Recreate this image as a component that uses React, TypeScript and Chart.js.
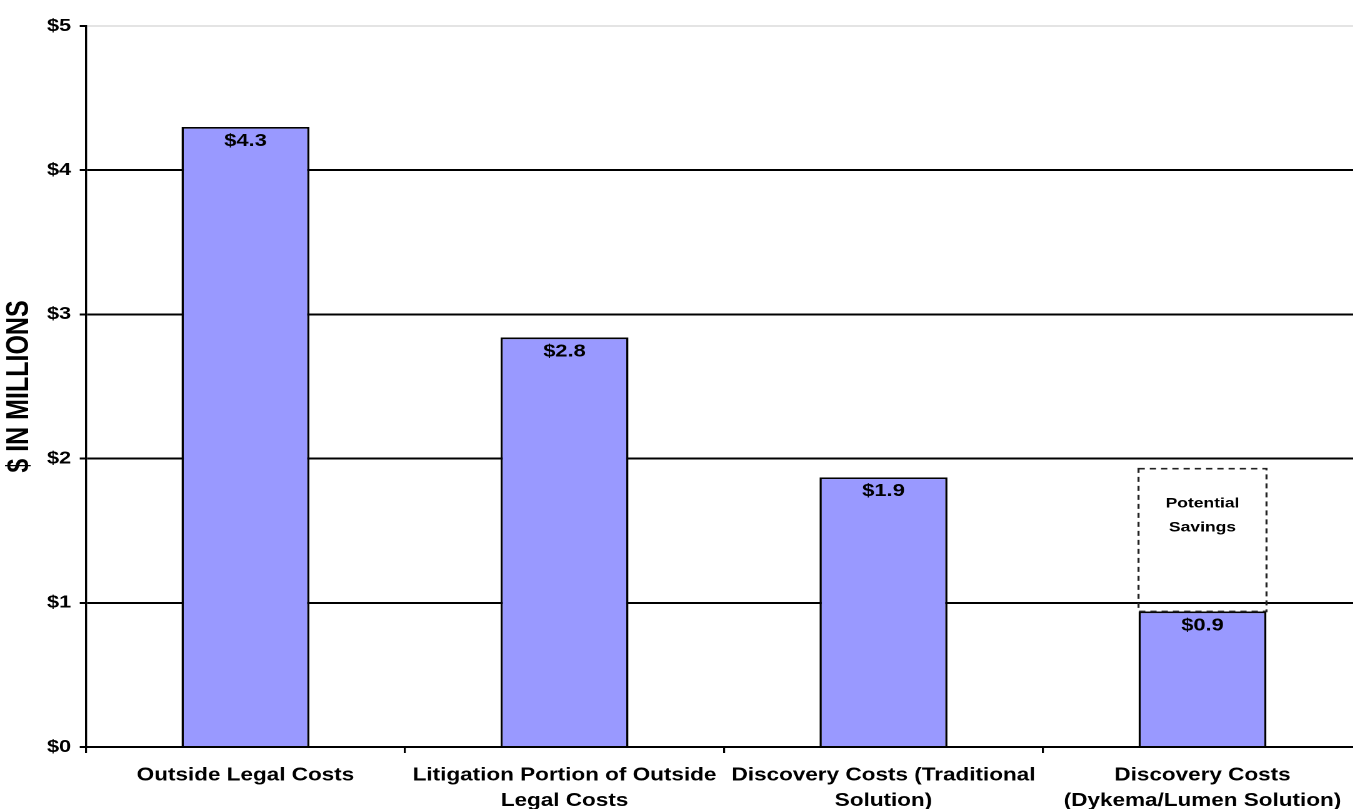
import { useEffect, useRef } from "react";
import { Chart, registerables } from "chart.js";

Chart.register(...registerables);

// ---- data ----
const categories = [
  "Outside Legal Costs",
  "Litigation Portion of Outside Legal Costs",
  "Discovery Costs (Traditional Solution)",
  "Discovery Costs (Dykema/Lumen Solution)",
];
const categoryLabelLines = [
  ["Outside Legal Costs"],
  ["Litigation Portion of Outside", "Legal Costs"],
  ["Discovery Costs (Traditional", "Solution)"],
  ["Discovery Costs", "(Dykema/Lumen Solution)"],
];
const costValues = [4.3, 2.84, 1.87, 0.94];
const savingsRange: (number[] | null)[] = [null, null, null, [0.94, 1.93]];
const savingsLabelLines = ["Potential", "Savings"];
const yMin = 0;
const yMax = 5;
const yStep = 1;
const yAxisTitle = "$ IN MILLIONS";

// ---- layout ----
const SX = 1.25; // the reference is stretched horizontally
const VIEW_W = 1353;
const VIEW_H = 809;
const PLOT_RIGHT = 1362 / SX; // plot runs slightly past the right edge of the view
const CANVAS_W = 1100;
const CANVAS_H = 830;
const FONT = '"Liberation Sans", Arial, Helvetica, sans-serif';

const overlayPlugin = {
  id: "overlay",
  afterDatasetsDraw(chart: any) {
    const ctx = chart.ctx;
    ctx.save();
    // value labels inside bars
    const meta0 = chart.getDatasetMeta(0);
    ctx.fillStyle = "#000";
    ctx.font = `bold 17.5px ${FONT}`;
    ctx.textAlign = "center";
    ctx.textBaseline = "middle";
    meta0.data.forEach((el: any, i: number) => {
      const v = costValues[i];
      ctx.fillText(`$${v.toFixed(1)}`, el.x, el.y + 14);
    });
    // dashed savings box
    const meta1 = chart.getDatasetMeta(1);
    meta1.data.forEach((el: any, i: number) => {
      if (!savingsRange[i]) return;
      const p = el.getProps(["x", "y", "base", "width"], true);
      const left = p.x - p.width / 2;
      const top = Math.min(p.y, p.base);
      const bottom = Math.max(p.y, p.base);
      ctx.setLineDash([5, 4]);
      ctx.lineWidth = 1.6;
      ctx.strokeStyle = "#222";
      ctx.strokeRect(left, top, p.width, bottom - top);
      ctx.setLineDash([]);
      ctx.font = `bold 14px ${FONT}`;
      ctx.fillStyle = "#000";
      savingsLabelLines.forEach((line, k) => {
        ctx.fillText(line, p.x, top + 35 + k * 24);
      });
    });
    // y axis title
    const area = chart.chartArea;
    ctx.translate(19.5 / SX, (area.top + area.bottom) / 2);
    ctx.rotate(-Math.PI / 2);
    ctx.font = `bold 25px ${FONT}`;
    ctx.textAlign = "center";
    ctx.textBaseline = "middle";
    ctx.fillText(yAxisTitle, 0, 0);
    ctx.restore();
  },
};

export default function App() {
  const ref = useRef<HTMLCanvasElement | null>(null);

  useEffect(() => {
    if (!ref.current) return;
    const chart = new Chart(ref.current, {
      type: "bar",
      data: {
        labels: categoryLabelLines as any,
        datasets: [
          {
            label: "Costs",
            data: costValues,
            backgroundColor: "#9999FF",
            borderColor: "#000",
            borderWidth: 1.8,
            barPercentage: 0.401,
            categoryPercentage: 1,
            order: 1,
          },
          {
            label: "Potential Savings",
            data: savingsRange as any,
            backgroundColor: "rgba(0,0,0,0)",
            borderWidth: 0,
            barPercentage: 0.401,
            categoryPercentage: 1,
            order: 2,
          },
        ],
      },
      options: {
        responsive: false,
        animation: false,
        devicePixelRatio: 2,
        layout: { padding: { top: 26, right: CANVAS_W - PLOT_RIGHT, bottom: 0, left: 0 } },
        datasets: { bar: { grouped: false } } as any,
        plugins: {
          legend: { display: false },
          tooltip: { enabled: false },
          title: { display: false },
        },
        scales: {
          x: {
            offset: true,
            grid: {
              offset: true,
              drawOnChartArea: false,
              drawTicks: true,
              tickLength: 6,
              color: "#000",
              tickColor: "#000",
              lineWidth: 1.6,
            },
            border: { display: true, color: "#000", width: 2 },
            ticks: {
              color: "#000",
              font: { family: FONT, size: 18, weight: "bold", lineHeight: 1.4 },
              padding: 10,
              maxRotation: 0,
              minRotation: 0,
              autoSkip: false,
            },
            afterFit(scale: any) {
              scale.height = CANVAS_H - 747;
            },
          },
          y: {
            min: yMin,
            max: yMax,
            grid: {
              color: (c: any) => (c.tick && c.tick.value === yMax ? "#c8c8c8" : "#000"),
              lineWidth: (c: any) => (c.tick && c.tick.value === yMax ? 1 : 2),
              tickColor: "#000",
              tickWidth: 2,
              tickLength: 5,
              drawTicks: true,
            },
            border: { display: true, color: "#000", width: 1.7 },
            ticks: {
              stepSize: yStep,
              color: "#000",
              font: { family: FONT, size: 17.3, weight: "bold" },
              padding: 7,
              callback: (v: any) => `$${v}`,
            },
            afterFit(scale: any) {
              scale.width = 86 / SX;
            },
          },
        },
      },
      plugins: [overlayPlugin],
    });
    return () => chart.destroy();
  }, []);

  return (
    <div
      style={{
        position: "absolute",
        left: 0,
        top: 0,
        width: VIEW_W,
        height: VIEW_H,
        overflow: "hidden",
        background: "#fff",
      }}
    >
      <canvas
        ref={ref}
        width={CANVAS_W}
        height={CANVAS_H}
        aria-label={categories.join(", ")}
        style={{
          display: "block",
          width: CANVAS_W,
          height: CANVAS_H,
          transform: `scaleX(${SX})`,
          transformOrigin: "0 0",
        }}
      />
    </div>
  );
}
